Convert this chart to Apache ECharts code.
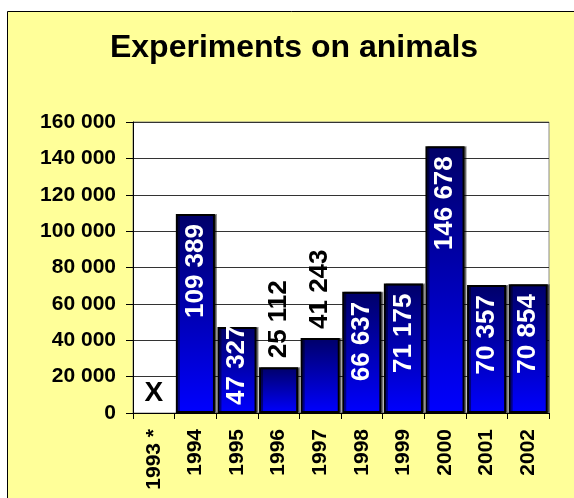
<!DOCTYPE html>
<html>
<head>
<meta charset="utf-8">
<script src="https://cdn.jsdelivr.net/npm/echarts@6/dist/echarts.min.js"></script>
<style>
  html, body { margin: 0; padding: 0; background: #fff; }
  #chart { width: 574px; height: 498px; }
</style>
</head>
<body>
<div id="chart"></div>
<script>
// data
var years = ['1993 *', '1994', '1995', '1996', '1997', '1998', '1999', '2000', '2001', '2002'];
var animals = [0, 109389, 47327, 25112, 41243, 66637, 71175, 146678, 70357, 70854];
var yTicks = [0, 20000, 40000, 60000, 80000, 100000, 120000, 140000, 160000];

var FONT = '"Liberation Sans", Arial, sans-serif';

function fmt(v) {
    return String(v).replace(/\B(?=(\d{3})+(?!\d))/g, ' ');
}

var barGrad = new echarts.graphic.LinearGradient(0, 0, 0, 1, [
    { offset: 0, color: '#000068' },
    { offset: 1, color: '#0000ff' }
]);

// label placement per bar: 1993 has no data (X), 1995 runs up from the bottom,
// 1996/1997 sit above the bar in black, the rest hang from the top inside
var seriesData = animals.map(function (v, i) {
    if (i === 0) {
        return {
            value: v,
            itemStyle: { borderWidth: 0, shadowBlur: 0, shadowOffsetX: 0 },
            label: { formatter: 'X', rotate: 0, position: 'top', distance: 6,
                     align: 'center', verticalAlign: 'bottom', color: '#000', fontSize: 28 }
        };
    }
    if (i === 2) {
        return { value: v, label: { position: 'insideBottom', align: 'left', distance: 8 } };
    }
    if (i === 3 || i === 4) {
        return { value: v, label: { position: 'top', align: 'left', distance: 9, color: '#000' } };
    }
    return { value: v };
});

var dom = document.getElementById('chart');
var myChart = echarts.init(dom);

var option = {
    backgroundColor: '#fff',
    animation: false,
    graphic: [{
        type: 'rect',
        shape: { x: 7.5, y: 11.5, width: 600, height: 520 },
        style: { fill: '#ffff99', stroke: '#000', lineWidth: 1 },
        z: -10
    }],
    title: {
        text: 'Experiments on animals',
        left: 289,
        top: 27,
        textAlign: 'center',
        textStyle: { fontFamily: FONT, fontSize: 32, fontWeight: 'bold', color: '#000' }
    },
    grid: {
        left: 133,
        top: 122,
        right: 25,
        bottom: 85,
        show: true,
        backgroundColor: '#fff',
        borderColor: '#8a8a8a',
        borderWidth: 1
    },
    xAxis: {
        type: 'category',
        data: years,
        axisLine: { lineStyle: { color: '#000', width: 1 } },
        axisTick: { show: true, length: 6, lineStyle: { color: '#000' } },
        axisLabel: {
            rotate: 90,
            margin: 16,
            color: '#000',
            fontFamily: FONT,
            fontSize: 21,
            fontWeight: 'bold'
        }
    },
    yAxis: {
        type: 'value',
        min: yTicks[0],
        max: yTicks[yTicks.length - 1],
        interval: yTicks[1] - yTicks[0],
        axisLine: { show: true, lineStyle: { color: '#000', width: 1 } },
        axisTick: { show: true, length: 7, lineStyle: { color: '#000' } },
        splitLine: { lineStyle: { color: '#333', width: 1 } },
        axisLabel: {
            margin: 17,
            color: '#000',
            fontFamily: FONT,
            fontSize: 21,
            fontWeight: 'bold',
            formatter: function (v) { return fmt(v); }
        }
    },
    series: [{
        type: 'bar',
        data: seriesData,
        barCategoryGap: '6%',
        itemStyle: {
            color: barGrad,
            borderColor: '#000',
            borderWidth: 2,
            shadowColor: 'rgba(0,0,0,0.45)',
            shadowOffsetX: 2,
            shadowOffsetY: 0
        },
        label: {
            show: true,
            rotate: 90,
            position: 'insideTop',
            align: 'right',
            verticalAlign: 'middle',
            distance: 10,
            color: '#fff',
            fontFamily: FONT,
            fontSize: 26,
            fontWeight: 'bold',
            formatter: function (p) { return fmt(p.value); }
        }
    }]
};

myChart.setOption(option);
</script>
</body>
</html>
